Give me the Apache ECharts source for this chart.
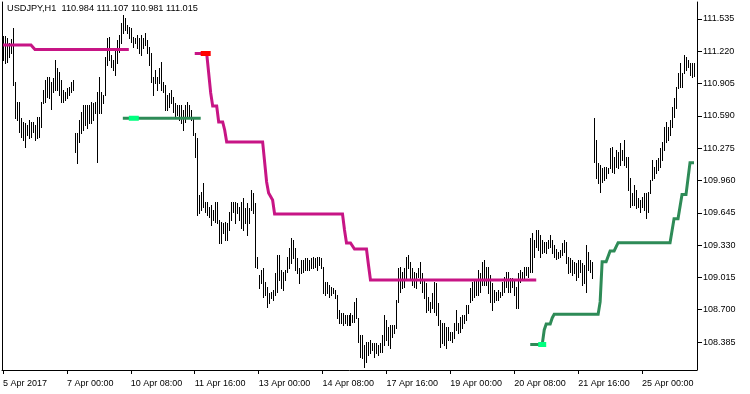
<!DOCTYPE html>
<html>
<head>
<meta charset="utf-8">
<title>USDJPY,H1</title>
<script src="https://cdn.jsdelivr.net/npm/echarts@6/dist/echarts.min.js"></script>
<style>
  html, body { margin: 0; padding: 0; background: #fff; }
  #chart { width: 750px; height: 394px; }
</style>
</head>
<body>
<div id="chart"></div>
<script>
// USDJPY H1 bars (high / low per bar)
const symbolTitle = 'USDJPY,H1  110.984 111.107 110.981 111.015';
const timeLabels = ['5 Apr 2017', '7 Apr 00:00', '10 Apr 08:00', '11 Apr 16:00', '13 Apr 00:00',
  '14 Apr 08:00', '17 Apr 16:00', '19 Apr 00:00', '20 Apr 08:00', '21 Apr 16:00', '25 Apr 00:00'];
const priceTicks = ['108.385', '108.700', '109.015', '109.330', '109.645', '109.960',
  '110.275', '110.590', '110.905', '111.220', '111.535'];

const highs = [
  111.369, 111.369, 111.350, 111.301, 111.340, 111.447, 110.921, 110.726, 110.726, 110.570, // 0
  110.531, 110.521, 110.501, 110.550, 110.531, 110.531, 110.501, 110.579, 110.579, 110.726, // 10
  110.843, 110.940, 110.969, 110.969, 110.921, 110.960, 111.135, 111.057, 111.018, 110.940, // 20
  110.843, 110.823, 110.862, 110.872, 110.921, 110.940, 110.423, 110.423, 110.550, 110.628, // 30
  110.696, 110.696, 110.696, 110.696, 110.726, 110.716, 110.726, 110.823, 110.969, 110.823, // 40
  110.794, 111.164, 111.350, 111.359, 111.184, 111.135, 111.233, 111.330, 111.379, 111.496, // 50
  111.574, 111.545, 111.476, 111.457, 111.447, 111.359, 111.350, 111.379, 111.350, 111.379, // 60
  111.350, 111.398, 111.330, 111.262, 111.203, 110.969, 111.038, 110.969, 111.057, 111.116, // 70
  110.921, 110.891, 110.794, 110.813, 110.843, 110.774, 110.716, 110.696, 110.696, 110.696, // 80
  110.648, 110.696, 110.726, 110.696, 110.648, 110.579, 110.423, 110.375, 109.819, 109.848, // 90
  109.936, 109.751, 109.751, 109.702, 109.721, 109.673, 109.751, 109.751, 109.575, 109.556, // 100
  109.546, 109.556, 109.546, 109.653, 109.751, 109.751, 109.751, 109.741, 109.702, 109.751, // 110
  109.790, 109.692, 109.741, 109.692, 109.868, 109.838, 109.741, 109.214, 109.039, 109.088, // 120
  109.107, 108.971, 108.922, 108.863, 108.873, 108.893, 109.058, 109.234, 109.234, 109.088, // 130
  109.068, 109.088, 109.214, 109.302, 109.400, 109.380, 109.302, 109.205, 109.107, 109.185, // 140
  109.185, 109.205, 109.205, 109.185, 109.205, 109.214, 109.205, 109.214, 109.214, 109.205, // 150
  109.117, 108.971, 108.971, 108.941, 108.922, 108.912, 108.893, 108.844, 108.698, 108.668, // 160
  108.668, 108.649, 108.649, 108.649, 108.668, 108.649, 108.776, 108.815, 108.620, 108.454, // 170
  108.454, 108.356, 108.386, 108.386, 108.405, 108.376, 108.376, 108.376, 108.356, 108.376, // 180
  108.454, 108.649, 108.600, 108.532, 108.551, 108.551, 108.551, 108.795, 109.107, 109.117, // 190
  109.068, 109.107, 109.214, 109.234, 109.166, 109.107, 109.068, 109.058, 109.107, 109.166, // 200
  109.058, 108.990, 108.961, 108.824, 108.776, 108.863, 108.971, 108.961, 108.766, 108.600, // 210
  108.571, 108.571, 108.532, 108.532, 108.483, 108.483, 108.571, 108.698, 108.571, 108.629, // 220
  108.649, 108.649, 108.746, 108.746, 108.912, 108.971, 108.990, 108.990, 109.088, 109.058, // 230
  109.166, 109.185, 109.117, 109.117, 109.039, 108.961, 108.893, 108.873, 108.893, 108.873, // 240
  108.971, 109.019, 109.068, 109.068, 109.010, 109.010, 108.990, 108.922, 109.058, 109.088, // 250
  109.068, 109.117, 109.117, 109.117, 109.400, 109.448, 109.380, 109.478, 109.478, 109.429, // 260
  109.380, 109.361, 109.361, 109.380, 109.429, 109.380, 109.331, 109.292, 109.263, 109.283, // 270
  109.351, 109.380, 109.361, 109.214, 109.205, 109.185, 109.166, 109.156, 109.185, 109.185, // 280
  109.156, 109.136, 109.331, 109.263, 109.185, 109.166, 110.570, 110.355, 110.131, 110.111, // 290
  110.082, 110.092, 110.092, 110.082, 110.277, 110.287, 110.189, 110.258, 110.238, 110.326, // 300
  110.258, 110.355, 110.189, 110.189, 109.985, 109.838, 109.916, 109.868, 109.790, 109.770, // 310
  109.799, 109.838, 109.838, 109.848, 109.965, 110.160, 110.092, 110.160, 110.180, 110.277, // 320
  110.336, 110.482, 110.531, 110.482, 110.550, 110.677, 110.765, 110.872, 111.008, 111.106, // 330
  111.008, 111.184, 111.164, 111.135, 111.106, 111.106, 111.107                             // 340
];

const lows = [
  111.135, 111.106, 111.116, 111.164, 111.203, 110.891, 110.570, 110.550, 110.433, 110.384, // 0
  110.355, 110.287, 110.404, 110.375, 110.384, 110.433, 110.355, 110.375, 110.384, 110.482, // 10
  110.716, 110.726, 110.774, 110.765, 110.657, 110.823, 110.843, 110.843, 110.794, 110.726, // 20
  110.726, 110.745, 110.765, 110.794, 110.823, 110.843, 110.238, 110.131, 110.336, 110.423, // 30
  110.453, 110.501, 110.472, 110.521, 110.521, 110.550, 110.618, 110.141, 110.618, 110.618, // 40
  110.716, 110.794, 111.086, 111.135, 111.067, 111.038, 110.989, 111.106, 111.213, 111.301, // 50
  111.398, 111.428, 111.398, 111.350, 111.311, 111.262, 111.301, 111.252, 111.203, 111.184, // 60
  111.252, 111.281, 111.203, 111.086, 110.921, 110.794, 110.911, 110.843, 110.911, 110.843, // 70
  110.823, 110.648, 110.648, 110.677, 110.716, 110.628, 110.579, 110.599, 110.550, 110.521, // 80
  110.453, 110.531, 110.579, 110.570, 110.550, 110.404, 110.189, 109.624, 109.643, 109.673, // 90
  109.702, 109.653, 109.624, 109.604, 109.526, 109.575, 109.556, 109.546, 109.351, 109.351, // 100
  109.448, 109.380, 109.380, 109.478, 109.575, 109.653, 109.546, 109.643, 109.575, 109.497, // 110
  109.478, 109.546, 109.429, 109.546, 109.673, 109.643, 109.117, 109.107, 108.912, 108.961, // 120
  108.824, 108.844, 108.727, 108.766, 108.815, 108.795, 108.844, 108.873, 108.990, 108.912, // 130
  108.893, 108.990, 109.068, 109.107, 109.156, 109.205, 109.088, 109.058, 108.961, 109.058, // 140
  109.068, 109.088, 109.088, 109.088, 109.107, 109.107, 109.117, 109.088, 109.136, 109.107, // 150
  108.863, 108.844, 108.863, 108.824, 108.844, 108.863, 108.815, 108.620, 108.571, 108.571, // 160
  108.551, 108.571, 108.551, 108.551, 108.551, 108.581, 108.581, 108.620, 108.386, 108.239, // 170
  108.230, 108.142, 108.191, 108.259, 108.278, 108.308, 108.239, 108.278, 108.259, 108.288, // 180
  108.288, 108.356, 108.405, 108.356, 108.327, 108.434, 108.473, 108.522, 108.776, 108.873, // 190
  108.912, 108.922, 109.010, 109.107, 109.010, 108.941, 108.922, 108.912, 109.019, 108.961, // 200
  108.873, 108.815, 108.678, 108.698, 108.678, 108.717, 108.678, 108.649, 108.551, 108.337, // 210
  108.376, 108.356, 108.327, 108.405, 108.405, 108.386, 108.425, 108.503, 108.473, 108.483, // 220
  108.522, 108.571, 108.600, 108.668, 108.776, 108.795, 108.824, 108.844, 108.844, 108.873, // 230
  108.941, 108.941, 108.941, 108.863, 108.776, 108.698, 108.776, 108.795, 108.795, 108.824, // 240
  108.844, 108.873, 108.922, 108.873, 108.873, 108.922, 108.844, 108.717, 108.717, 108.971, // 250
  108.990, 109.010, 109.039, 109.019, 109.068, 109.068, 109.214, 109.312, 109.283, 109.214, // 260
  109.253, 109.263, 109.253, 109.302, 109.312, 109.253, 109.214, 109.195, 109.205, 109.214, // 270
  109.234, 109.263, 109.156, 109.058, 109.068, 109.039, 109.058, 108.990, 109.019, 109.068, // 280
  108.941, 108.961, 108.873, 109.088, 109.068, 109.010, 110.141, 109.985, 109.936, 109.848, // 290
  109.946, 109.965, 109.985, 110.033, 110.082, 110.043, 110.033, 110.092, 110.082, 110.111, // 300
  110.160, 110.111, 110.092, 109.868, 109.702, 109.721, 109.721, 109.692, 109.702, 109.653, // 310
  109.702, 109.673, 109.595, 109.653, 109.838, 109.965, 109.985, 110.033, 110.063, 110.092, // 320
  110.160, 110.258, 110.336, 110.355, 110.404, 110.482, 110.579, 110.667, 110.862, 110.872, // 330
  110.872, 111.008, 111.038, 111.067, 110.989, 110.969, 110.981                             // 340
];

// indicator levels: [first bar, last bar, price]
const magentaRuns = [
  [0, 15, 111.281], [16, 63, 111.237],
  [96, 103, 111.198], [104, 104, 110.813], [105, 107, 110.687], [108, 110, 110.531],
  [111, 111, 110.453], [112, 131, 110.336], [132, 132, 109.946], [133, 134, 109.838],
  [135, 135, 109.770], [136, 170, 109.634], [171, 171, 109.478], [172, 175, 109.351],
  [176, 182, 109.292], [183, 183, 109.136], [184, 267, 108.990]
];
const greenRuns = [
  [60, 99, 110.567],
  [264, 270, 108.361], [271, 271, 108.503], [272, 274, 108.561], [275, 275, 108.620],
  [276, 298, 108.656], [299, 299, 108.776], [300, 303, 109.168], [304, 307, 109.273],
  [308, 335, 109.354], [336, 339, 109.588], [340, 343, 109.824], [344, 346, 110.134]
];
const redRuns = [[99, 104, 111.198]];
const springRuns = [[63, 68, 110.567], [268, 272, 108.361]];

const BAR_SLOTS = 348; // one empty slot on the right like MT4 shift
const FONT = "'Liberation Sans', Arial, sans-serif";

function expandRuns(runs) {
  const out = new Array(BAR_SLOTS).fill(null);
  runs.forEach(([a, b, v]) => { for (let i = a; i <= b; i++) out[i] = v; });
  return out;
}

const categories = [];
for (let i = 0; i < BAR_SLOTS; i++) {
  categories.push(i % 32 === 0 && timeLabels[i / 32] ? timeLabels[i / 32] : '');
}
const barData = highs.map((h, i) => [i, lows[i], h]);
const tickValues = priceTicks.map(Number);

const chart = echarts.init(document.getElementById('chart'));

function levelSeries(name, runs, color, width, z) {
  return {
    name: name,
    type: 'line',
    data: expandRuns(runs),
    showSymbol: false,
    symbol: 'none',
    connectNulls: false,
    lineStyle: { color: color, width: width, cap: 'butt', join: 'miter' },
    silent: true,
    z: z
  };
}

chart.setOption({
  animation: false,
  backgroundColor: '#fff',
  graphic: [{
    type: 'text', left: 7, top: 4,
    style: { text: symbolTitle, font: '9.2px ' + FONT, fill: '#000' }
  }],
  grid: { left: 1, right: 53, top: 2, bottom: 24, show: false },
  xAxis: {
    type: 'category',
    data: categories,
    boundaryGap: true,
    axisLine: { show: true, onZero: false, lineStyle: { color: '#000', width: 1 } },
    axisTick: { show: true, interval: 31, alignWithLabel: true, length: 4, lineStyle: { color: '#000' } },
    axisLabel: { interval: 31, align: 'left', margin: 9, color: '#000', fontSize: 9, fontFamily: FONT, hideOverlap: false },
    splitLine: { show: false }
  },
  yAxis: [{
    type: 'value',
    position: 'right',
    min: 108.1125,
    max: 111.7005,
    axisLine: { show: true, lineStyle: { color: '#000', width: 1 } },
    axisTick: { show: true, length: 5, customValues: tickValues, lineStyle: { color: '#000' } },
    axisLabel: {
      customValues: tickValues, margin: 6, color: '#000', fontSize: 9, fontFamily: FONT,
      formatter: v => v.toFixed(3)
    },
    splitLine: { show: false }
  }, {
    type: 'value',
    position: 'left',
    min: 108.1125,
    max: 111.7005,
    axisLine: { show: true, lineStyle: { color: '#000', width: 1 } },
    axisTick: { show: false },
    axisLabel: { show: false },
    splitLine: { show: false }
  }],
  series: [
    {
      type: 'custom',
      data: barData,
      encode: { x: 0, y: [1, 2] },
      silent: true,
      z: 1,
      renderItem: function (params, api) {
        const top = api.coord([api.value(0), api.value(2)]);
        const bottom = api.coord([api.value(0), api.value(1)]);
        const x = Math.round(top[0]) + 0.5;
        return {
          type: 'line',
          shape: { x1: x, y1: Math.round(top[1]), x2: x, y2: Math.round(bottom[1]) + 1 },
          style: { stroke: '#000', lineWidth: 1 }
        };
      }
    },
    levelSeries('up', magentaRuns, '#C71585', 3, 3),
    levelSeries('down', greenRuns, '#2E8B57', 3, 3),
    levelSeries('upSignal', redRuns, '#FF0000', 5, 4),
    levelSeries('downSignal', springRuns, '#00FF7F', 5, 4)
  ]
});
</script>
</body>
</html>
